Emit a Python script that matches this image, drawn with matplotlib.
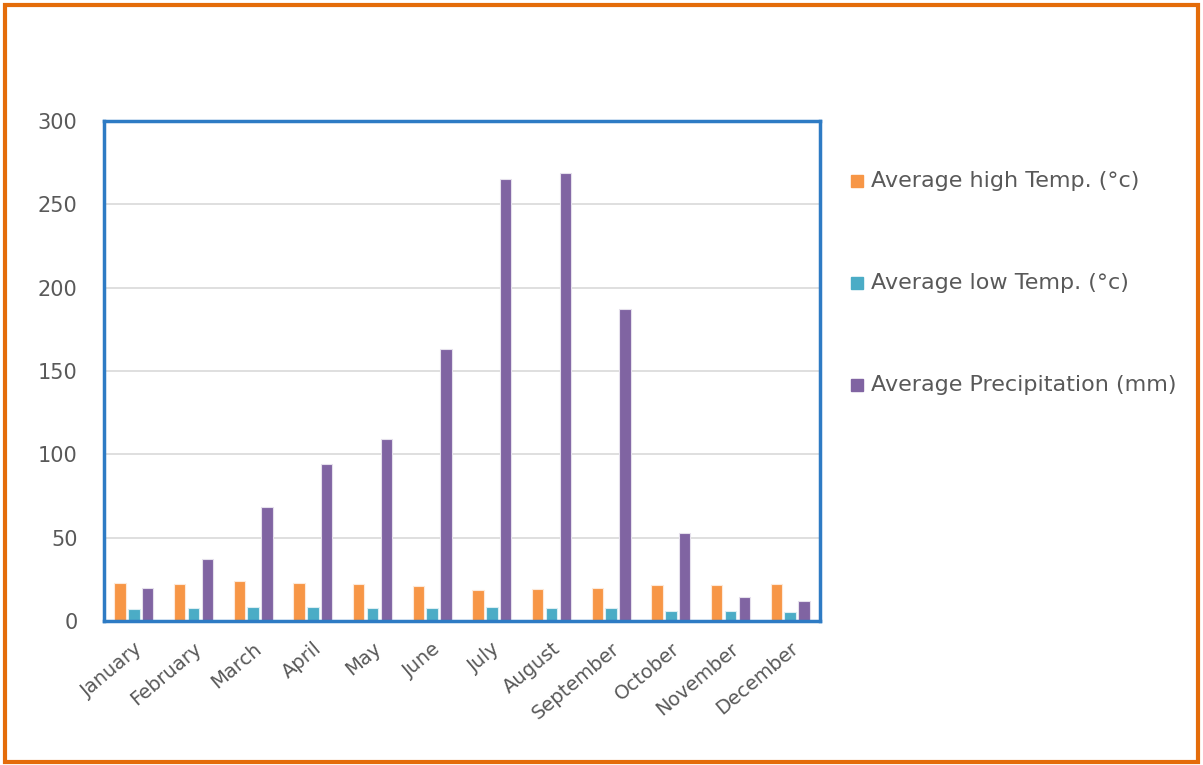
import matplotlib
matplotlib.use("Agg")
import matplotlib.pyplot as plt
import numpy as np
from matplotlib.patches import Rectangle

months = ["January", "February", "March", "April", "May", "June", "July",
          "August", "September", "October", "November", "December"]
high_temp = [23, 22, 24, 23, 22, 21, 18.5, 19, 20, 21.5, 21.5, 22]
low_temp = [7, 7.6, 8.2, 8.2, 8, 7.6, 8.2, 7.6, 7.6, 6, 6, 5.2]
precip = [20, 37, 68.5, 94, 109, 163, 265, 269, 187, 53, 14.6, 12.2]
series_names = ["Average high Temp. (°c)", "Average low Temp. (°c)",
                "Average Precipitation (mm)"]
colors = ["#F79646", "#4BACC6", "#8064A2"]
edge_colors = ["#fde9d9", "#dbeef3", "#e5e0ec"]
yticks = [0, 50, 100, 150, 200, 250, 300]

plt.rcParams['font.family'] = ['DejaVu Sans']

fig = plt.figure(figsize=(12.03, 7.65), dpi=100)
ax = fig.add_axes([104/1203, 1-621/765, (820-104)/1203, 500/765])

x = np.arange(len(months))
width = 0.19
offset = 0.23
for i, (vals, c, ec) in enumerate(zip([high_temp, low_temp, precip], colors, edge_colors)):
    ax.bar(x + (i-1)*offset, vals, width, color=c, edgecolor=ec,
           linewidth=0.8, zorder=3)

ax.set_xlim(-0.5, len(months)-0.5)
ax.set_ylim(0, 300)
ax.set_yticks(yticks)
ax.set_yticklabels([str(t) for t in yticks], fontsize=15, color="#595959")
ax.yaxis.grid(True, color="#d9d9d9", linewidth=1.2, zorder=0)
ax.tick_params(axis='y', length=0, pad=19)
ax.set_xticks(x)
ax.set_xticklabels(months, rotation=40, ha='right', rotation_mode='anchor',
                   fontsize=14, color="#595959")
ax.tick_params(axis='x', length=0, pad=13)
for s in ax.spines.values():
    s.set_color("#2E7BC4")
    s.set_linewidth(2.5)
    s.set_zorder(5)

# legend
leg_y = [181, 283, 385]
for name, c, yy in zip(series_names, colors, leg_y):
    fig.patches.append(Rectangle((851/1203, 1-(yy+6)/765), 12/1203, 12/765,
                                 transform=fig.transFigure, color=c, figure=fig))
    fig.text(871/1203, 1-yy/765, name, fontsize=16, color="#595959",
             va='center', ha='left')

# outer orange border
fig.patches.append(Rectangle((5/1203, 3/765), 1193/1203, 757/765, fill=False,
                             edgecolor="#E46C0A", linewidth=3,
                             transform=fig.transFigure, figure=fig))

fig.savefig("out.png", dpi=100)
